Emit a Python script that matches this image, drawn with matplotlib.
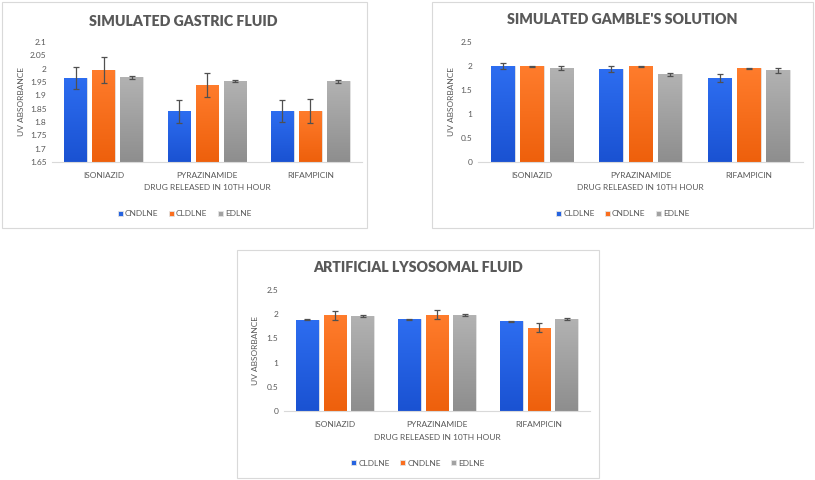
import matplotlib.pyplot as plt
from matplotlib.patches import Rectangle
from matplotlib.colors import LinearSegmentedColormap
import numpy as np

plt.rcParams['font.family'] = ['Lato', 'DejaVu Sans']

drugs = ['ISONIAZID', 'PYRAZINAMIDE', 'RIFAMPICIN']

# panel 1: simulated gastric fluid
sgf_names = ['CNDLNE', 'CLDLNE', 'EDLNE']
sgf_vals = [[1.965, 1.840, 1.842], [1.995, 1.940, 1.842], [1.967, 1.955, 1.952]]
sgf_err = [[0.042, 0.042, 0.042], [0.047, 0.045, 0.045], [0.004, 0.004, 0.004]]

# panel 2: simulated gamble's solution
sgs_names = ['CLDLNE', 'CNDLNE', 'EDLNE']
sgs_vals = [[2.00, 1.94, 1.75], [1.99, 1.99, 1.95], [1.95, 1.83, 1.91]]
sgs_err = [[0.07, 0.07, 0.08], [0.015, 0.015, 0.01], [0.04, 0.03, 0.05]]

# panel 3: artificial lysosomal fluid
alf_names = ['CLDLNE', 'CNDLNE', 'EDLNE']
alf_vals = [[1.89, 1.90, 1.85], [1.98, 1.99, 1.72], [1.96, 1.98, 1.90]]
alf_err = [[0.02, 0.01, 0.01], [0.09, 0.09, 0.09], [0.02, 0.02, 0.02]]

colors = ['#2563E0', '#FA6E1E', '#A2A2A2']
# top / bottom shades for the bar gradient
grads = [('#2D6DF0', '#1A52D2'), ('#FF7C2C', '#EE600C'), ('#B2B2B2', '#8E8E8E')]
txt = '#595959'

W, H = 815, 480
fig = plt.figure(figsize=(W / 100, H / 100), dpi=100)


def fx(px):
    return px / W


def fy(py):
    return 1 - py / H


def panel(box, ax_box, title, title_x, title_y, names, vals, errs, ylim, yticks, yticklabels, ylab_x):
    x0, y0, x1, y1 = box
    fig.patches.append(Rectangle((fx(x0), fy(y1)), fx(x1 - x0), (y1 - y0) / H,
                                 transform=fig.transFigure, facecolor='white',
                                 edgecolor='#D9D9D9', linewidth=0.8, zorder=-5))
    l, t, r, b = ax_box
    ax = fig.add_axes([fx(l), fy(b), fx(r - l), (b - t) / H])
    x = np.arange(len(drugs))
    grad = np.linspace(1, 0, 64).reshape(-1, 1)
    for i, (name, v, e) in enumerate(zip(names, vals, errs)):
        bars = ax.bar(x + (i - 1) * 0.27, v, 0.22, color=colors[i], edgecolor='#E4E4E4',
                      linewidth=0.6, label=name, zorder=2)
        cmap = LinearSegmentedColormap.from_list('g', [grads[i][1], grads[i][0]])
        for p in bars:
            bx, by = p.get_x(), p.get_y()
            im = ax.imshow(grad, cmap=cmap, aspect='auto', zorder=2.1,
                           extent=(bx, bx + p.get_width(), ylim[0], by + p.get_height()),
                           origin='upper', vmin=0, vmax=1)
            im.set_clip_path(p)
        ax.errorbar(x + (i - 1) * 0.27, v, yerr=e, fmt='none', ecolor='#505050',
                    elinewidth=0.9, capsize=2, capthick=0.9, zorder=3)
    ax.set_xlim(-0.5, 2.5)
    ax.set_ylim(*ylim)
    ax.set_yticks(yticks)
    ax.set_yticklabels(yticklabels)
    ax.set_xticks(x)
    ax.set_xticklabels(drugs)
    for s in ['top', 'right', 'left']:
        ax.spines[s].set_visible(False)
    ax.spines['bottom'].set_color('#D9D9D9')
    ax.tick_params(length=0, labelsize=6, colors=txt, pad=4)
    ax.tick_params(axis='x', pad=7)
    ax.patch.set_alpha(0)
    fig.text(fx(title_x), fy(title_y), title, ha='center', va='center',
             fontsize=10.2, fontweight='heavy', color=txt)
    fig.text(fx(ylab_x), fy((t + b) / 2), 'UV ABSORBANCE', rotation=90,
             ha='center', va='center', fontsize=6, color=txt)
    fig.text(fx((l + r) / 2), fy(b + 26), 'DRUG RELEASED IN 10TH HOUR',
             ha='center', va='center', fontsize=6, color=txt)
    ax.legend(loc='center', bbox_to_anchor=(fx((x0 + x1) / 2), fy(b + 52)),
              bbox_transform=fig.transFigure, ncol=3, frameon=False,
              fontsize=6, labelcolor=txt, handlelength=0.6, handleheight=0.6,
              handletextpad=0.3, columnspacing=1.2)
    return ax


panel((2, 2, 367, 228), (52, 42, 362, 162), 'SIMULATED GASTRIC FLUID', 183, 21,
      sgf_names, sgf_vals, sgf_err, (1.65, 2.1),
      [1.65, 1.7, 1.75, 1.8, 1.85, 1.9, 1.95, 2.0, 2.05, 2.1],
      ['1.65', '1.7', '1.75', '1.8', '1.85', '1.9', '1.95', '2', '2.05', '2.1'], 22)

panel((432, 2, 813, 228), (478, 42, 803, 162), "SIMULATED GAMBLE'S SOLUTION", 622, 20,
      sgs_names, sgs_vals, sgs_err, (0, 2.5),
      [0, 0.5, 1, 1.5, 2, 2.5], ['0', '0.5', '1', '1.5', '2', '2.5'], 452)

panel((237, 250, 599, 478), (284, 290, 590, 411), 'ARTIFICIAL LYSOSOMAL FLUID', 418, 268,
      alf_names, alf_vals, alf_err, (0, 2.5),
      [0, 0.5, 1, 1.5, 2, 2.5], ['0', '0.5', '1', '1.5', '2', '2.5'], 256)

fig.savefig('out.png', dpi=100)
